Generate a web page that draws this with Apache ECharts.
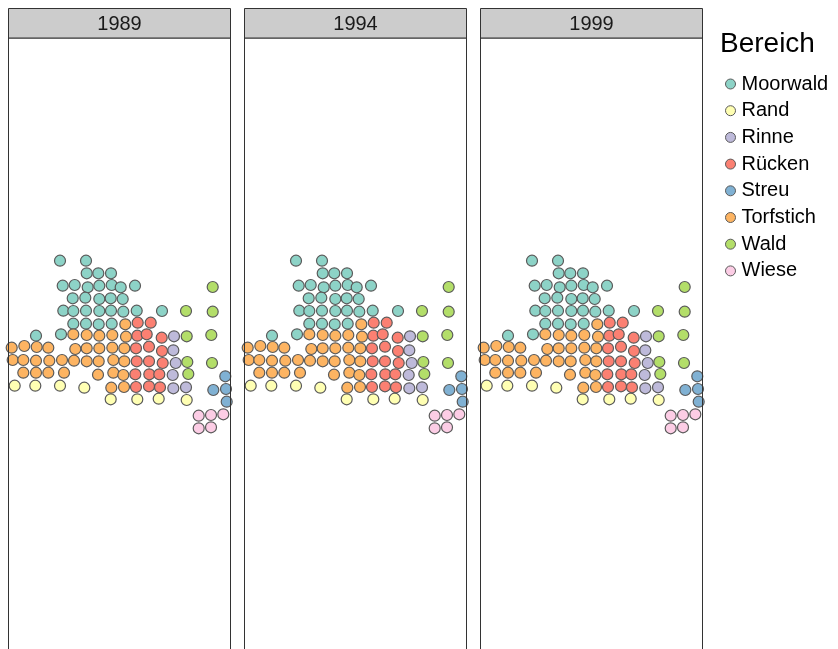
<!DOCTYPE html>
<html>
<head>
<meta charset="utf-8">
<script src="https://cdn.jsdelivr.net/npm/echarts@6/dist/echarts.min.js"></script>
<style>html,body{margin:0;padding:0;background:#fff;}#c{width:838px;height:649px;}</style>
</head>
<body>
<div id="c"></div>
<script>
const years = ['1989', '1994', '1999'];
const categories = ['Moorwald', 'Rand', 'Rinne', 'Rücken', 'Streu', 'Torfstich', 'Wald', 'Wiese'];
const colors = ['#8DD3C7', '#FFFFB3', '#BEBADA', '#FB8072', '#80B1D3', '#FDB462', '#B3DE69', '#FCCDE5'];

// point positions (x, y) per Bereich
const moorwald = [[52,408.3],[78,408.3],[78.7,395.7],[90.3,395.7],[103,395.7],[54.7,383.3],[66.7,384],[79.7,381.7],[91.3,383.3],[103.7,384],[112.7,381.7],[127,383.3],[64.7,370.7],[77.3,371.3],[91.3,370],[102.7,370.7],[114.7,370],[55.3,358.3],[65.3,358],[78,358.3],[91.3,358],[103,358.3],[115.3,357.3],[128.7,358.3],[154,358],[65.3,345.3],[78,345.3],[90.7,344.7],[103.7,345.3],[28,333.3],[53,334.7]];
const rand = [[6.7,283.3],[27.3,283.3],[52,283.3],[76.3,281.3],[102.7,269.7],[129.3,269.7],[150.7,270.3],[178.7,269]];
const rinne = [[166,332.7],[165.3,318.7],[167.7,306],[164.7,294],[165.3,280.7],[178,281.7]];
const ruecken = [[129.7,346.3],[142.7,346.3],[129.3,333.3],[138.7,334.7],[153.7,331.3],[128,320.7],[141,322.3],[154,318],[128.7,307.7],[141,307.7],[154.7,306],[127.3,294.7],[141.3,294.7],[151.3,294.7],[128,282],[141,282.7],[152,281.7]];
const streu = [[217.3,292.7],[205.3,279],[218,280],[218.7,267.3]];
const torfstich = [[117.3,344.7],[65.3,334.7],[78.7,334],[91.3,333.3],[104.3,334],[118,332.3],[3.7,321.3],[16.3,323],[28.7,322],[40.3,321.3],[67.3,320],[78.7,320.7],[91.3,320.7],[104.3,321.3],[116.3,320.7],[4.7,309],[15.3,309],[28,308.3],[41.3,308.3],[54,309],[66,308.3],[78.7,307.7],[90.7,307.7],[105.3,309],[116.3,307.7],[15.3,296.3],[28,296.3],[40.3,296.3],[56,296.3],[90,294.3],[105.3,296.3],[115.3,294],[103.3,281.3],[116,282]];
const wald = [[204.7,382],[178,358],[204.7,357.3],[178.7,332.7],[203.3,334],[179.3,307],[204,306],[180.3,295]];
const wiese = [[190.7,253.3],[203,254],[215.3,254.7],[190.7,240.7],[203,241.7]];

const seriesData = [moorwald, rand, rinne, ruecken, streu, torfstich, wald, wiese];

const panelLefts = [8, 244, 480];
const panelWidth = 223;
const font = '"Liberation Sans", Arial, sans-serif';

const grids = [], xAxes = [], yAxes = [], series = [], titles = [], graphics = [];
years.forEach((yr, i) => {
  const L = panelLefts[i];
  grids.push({left: L, top: 38, width: panelWidth, height: 611, show: true,
    backgroundColor: '#fff', borderWidth: 0});
  xAxes.push({gridIndex: i, type: 'value', min: 0, max: 223, show: false});
  yAxes.push({gridIndex: i, type: 'value', min: 20, max: 631, show: false});
  graphics.push({type: 'polyline', shape: {points: [[L + 0.5, 660], [L + 0.5, 38], [L + panelWidth - 0.5, 38], [L + panelWidth - 0.5, 660]]},
    style: {fill: null, stroke: '#333', lineWidth: 1}, z: 10});
  graphics.push({type: 'rect', shape: {x: L + 0.5, y: 8.5, width: panelWidth - 1, height: 29.5},
    style: {fill: '#CCCCCC', stroke: '#333', lineWidth: 1}, z: 10});
  titles.push({text: yr, left: L + panelWidth / 2 - 5, top: 9, textAlign: 'center',
    textStyle: {fontFamily: font, fontSize: 20, fontWeight: 'normal', color: '#1a1a1a'}, z: 20});
  categories.forEach((cat, k) => {
    series.push({
      type: 'scatter', name: cat, xAxisIndex: i, yAxisIndex: i,
      data: seriesData[k], symbol: 'circle', symbolSize: 11, clip: true,
      itemStyle: {color: colors[k], borderColor: '#5a5a5a', borderWidth: 1.2, opacity: 1},
      emphasis: {disabled: true}, animation: false
    });
  });
});

titles.push({text: 'Bereich', left: 715, top: 25,
  textStyle: {fontFamily: font, fontSize: 28, fontWeight: 'normal', color: '#000'}});

const chart = echarts.init(document.getElementById('c'), null, {renderer: 'canvas'});
chart.setOption({
  animation: false,
  title: titles,
  graphic: graphics,
  grid: grids,
  xAxis: xAxes,
  yAxis: yAxes,
  legend: {
    data: categories, orient: 'vertical', left: 720, top: 69, itemWidth: 10, itemHeight: 10,
    itemGap: 6.7, selectedMode: false, icon: 'circle',
    itemStyle: {borderColor: '#5a5a5a', borderWidth: 1},
    textStyle: {fontFamily: font, fontSize: 20, color: '#000', padding: [0, 0, 0, 1]}
  },
  series: series
});
</script>
</body>
</html>
